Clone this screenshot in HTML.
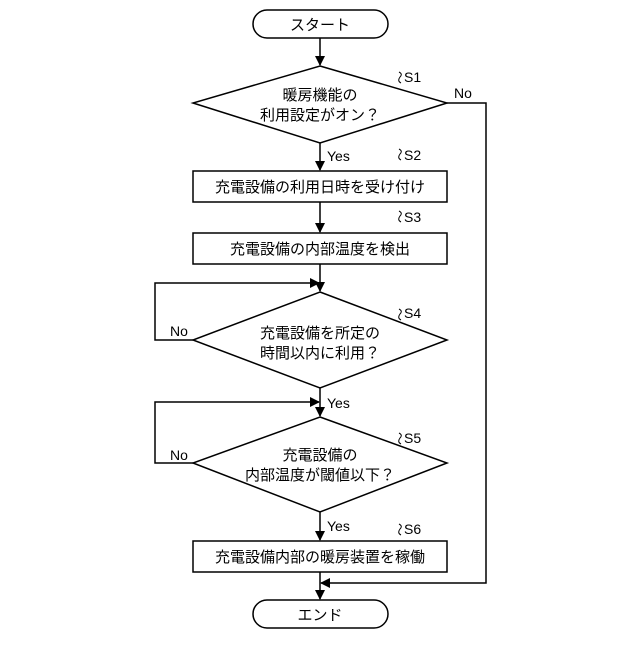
<!DOCTYPE html>
<html><head><meta charset="utf-8"><style>
body{margin:0;background:#fff;}
svg text{font-family:"Liberation Sans","Noto Sans CJK JP",sans-serif;fill:#000;}
</style></head><body>
<svg width="640" height="640" viewBox="0 0 640 640" xmlns="http://www.w3.org/2000/svg">
<defs><marker id="a" markerWidth="10" markerHeight="10" refX="9" refY="5" orient="auto" markerUnits="userSpaceOnUse"><path d="M0,0 L10,5 L0,10 Z" fill="#000"/></marker></defs>
<g fill="none" stroke="#000" stroke-width="1.5">
<rect x="253" y="10" width="135" height="28" rx="14"/>
<polygon points="320,66 447,103 320,143 193,103" fill="#fff"/>
<rect x="193" y="171" width="254" height="31"/>
<rect x="193" y="233" width="254" height="31"/>
<polygon points="320,292 447,340 320,388 193,340"/>
<polygon points="320,417 447,463 320,512 193,463"/>
<rect x="193" y="541" width="254" height="31"/>
<rect x="253" y="600" width="135" height="28" rx="14"/>
<line x1="320" y1="38" x2="320" y2="65" marker-end="url(#a)"/>
<line x1="320" y1="143" x2="320" y2="170" marker-end="url(#a)"/>
<line x1="320" y1="202" x2="320" y2="232" marker-end="url(#a)"/>
<line x1="320" y1="264" x2="320" y2="291" marker-end="url(#a)"/>
<line x1="320" y1="388" x2="320" y2="416" marker-end="url(#a)"/>
<line x1="320" y1="512" x2="320" y2="540" marker-end="url(#a)"/>
<line x1="320" y1="572" x2="320" y2="599" marker-end="url(#a)"/>
<polyline points="447,103 486,103 486,583 321,583" marker-end="url(#a)"/>
<polyline points="193,340 155,340 155,283 319,283" marker-end="url(#a)"/>
<polyline points="193,463 155,463 155,402 319,402" marker-end="url(#a)"/>
<path d="M401,83 q-4,-2 -1,-6 q3,-3 -1,-5 M401,160 q-4,-2 -1,-6 q3,-3 -1,-5 M401,222 q-4,-2 -1,-6 q3,-3 -1,-5 M401,320 q-4,-2 -1,-6 q3,-3 -1,-5 M401,444 q-4,-2 -1,-6 q3,-3 -1,-5 M401,535 q-4,-2 -1,-6 q3,-3 -1,-5" stroke-width="1"/>
</g>
<g font-size="15" text-anchor="middle">
<text x="320" y="30">スタート</text>
<text x="320" y="100">暖房機能の</text>
<text x="320" y="120">利用設定がオン？</text>
<text x="320" y="192">充電設備の利用日時を受け付け</text>
<text x="320" y="254">充電設備の内部温度を検出</text>
<text x="320" y="338">充電設備を所定の</text>
<text x="320" y="358">時間以内に利用？</text>
<text x="320" y="460">充電設備の</text>
<text x="320" y="480">内部温度が閾値以下？</text>
<text x="320" y="562">充電設備内部の暖房装置を稼働</text>
<text x="320" y="620">エンド</text>
</g>
<g font-size="14">
<text x="404" y="82">S1</text><text x="404" y="160">S2</text><text x="404" y="222">S3</text>
<text x="404" y="318">S4</text><text x="404" y="443">S5</text><text x="404" y="534">S6</text>
<text x="454" y="98">No</text><text x="170" y="336">No</text><text x="170" y="460">No</text>
<text x="327" y="161">Yes</text><text x="327" y="408">Yes</text><text x="327" y="531">Yes</text>
</g>
</svg>
</body></html>
